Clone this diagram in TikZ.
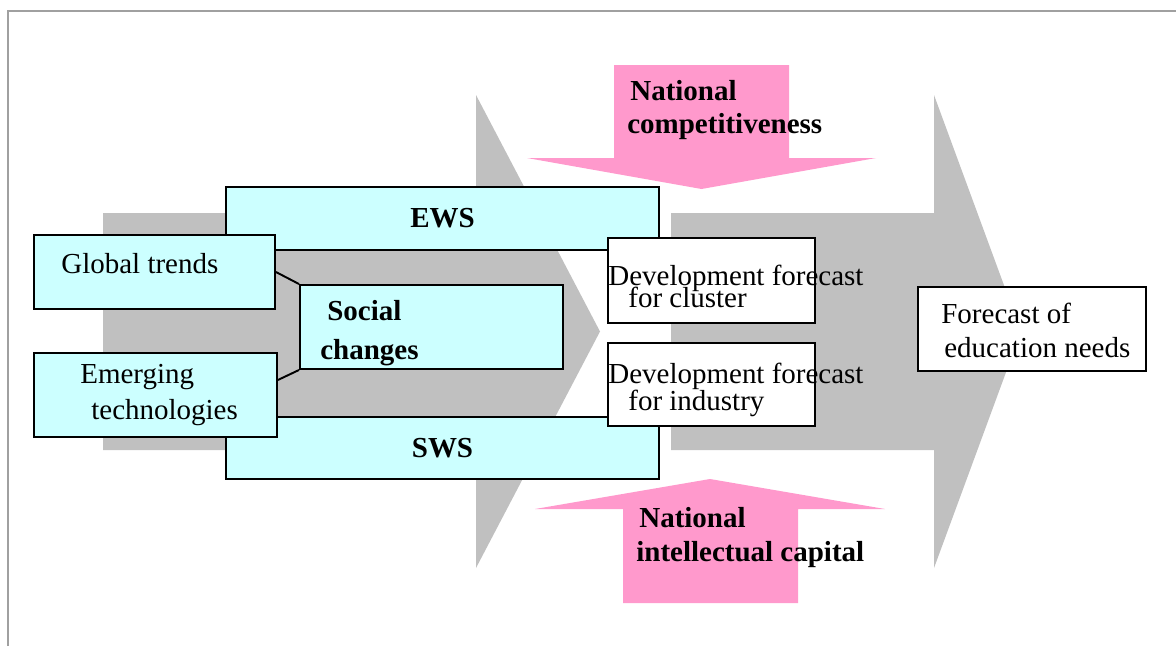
\documentclass[tikz,border=0pt]{standalone}
\usepackage{fontspec}
\setmainfont{Liberation Serif}
\definecolor{mycyan}{RGB}{204, 255, 255}
\definecolor{mypink}{RGB}{255, 153, 204}
\definecolor{mygray}{RGB}{192, 192, 192}
\definecolor{myframe}{RGB}{160, 160, 160}
\tikzstyle{box}=[draw,fill=mycyan,line width=1.1pt,inner sep=0pt]
\tikzstyle{result}=[draw,fill=white,line width=1.1pt,inner sep=0pt]
\tikzstyle{txt}=[anchor=base west,inner sep=0pt,font=\fontsize{16.5}{19}\selectfont]
\tikzstyle{btxt}=[anchor=base west,inner sep=0pt,font=\fontsize{16.5}{19}\selectfont\bfseries]
\tikzstyle{big}=[fill=mygray]
\tikzstyle{push}=[fill=mypink]

\begin{document}
\begin{tikzpicture}[x=0.02cm,y=-0.02cm]
      \useasboundingbox (0,0) rectangle (1176,646);
      \draw[myframe,line width=0.9pt] (8,646) -- (8,11) -- (1176,11);

      % grey flow arrows
      \fill[big] (103,213) -- (476,213) -- (476,95) -- (600,331.5) -- (476,568) -- (476,450) -- (103,450) -- cycle;
      \fill[big] (671,213) -- (934,213) -- (934,95) -- (1021,331.5) -- (934,568) -- (934,450) -- (671,450) -- cycle;

      % pink arrows
      \fill[push] (614,65) -- (789,65) -- (789,158) -- (876,158) -- (701.5,189) -- (527,158) -- (614,158) -- cycle;
      \fill[push] (623,603) -- (798,603) -- (798,509) -- (885,509) -- (710,479) -- (535,509) -- (623,509) -- cycle;
      \node (P1) [btxt] at (630,100) {National};
      \node (P2) [btxt] at (627,133) {competitiveness};
      \node (Q1) [btxt] at (639,527) {National};
      \node (Q2) [btxt] at (636,561) {intellectual capital};

      \node (E) at (442.5,218.5) [box, minimum width=8.66cm, minimum height=1.26cm, font=\fontsize{16.5}{19}\selectfont\bfseries] {EWS};
      \node (S) at (442.5,448) [box, minimum width=8.66cm, minimum height=1.24cm, font=\fontsize{16.5}{19}\selectfont\bfseries] {SWS};

      \node (A) at (154.5,272) [box, minimum width=4.82cm, minimum height=1.48cm] {};
      \node (B) at (155.5,395) [box, minimum width=4.86cm, minimum height=1.68cm] {};
      \node (C) at (431.5,327) [box, minimum width=5.26cm, minimum height=1.68cm] {};
      \draw[line width=1.1pt] (A.east) -- (C.north west);
      \draw[line width=1.1pt] (B.7.5) -- (C.south west);
      \node (A1) [txt] at (61,273) {Global trends};
      \node (B1) [txt] at (80,383) {Emerging};
      \node (B2) [txt] at (91,419) {technologies};
      \node (C1) [btxt] at (327,320) {Social};
      \node (C2) [btxt] at (320,359) {changes};

      \node (D) at (711.5,280.5) [result, minimum width=4.14cm, minimum height=1.70cm] {};
      \node (F) at (711.5,384.5) [result, minimum width=4.14cm, minimum height=1.66cm] {};
      \node (D1) [txt] at (608,285) {Development forecast};
      \node (D2) [txt] at (628,307) {for cluster};
      \node (F1) [txt] at (608,383) {Development forecast};
      \node (F2) [txt] at (628,410) {for industry};

      \node (G) at (1032,329) [result, minimum width=4.56cm, minimum height=1.68cm] {};
      \node (G1) [txt] at (941,323) {Forecast of};
      \node (G2) [txt] at (944,357) {education needs};
    \end{tikzpicture}
\end{document}
